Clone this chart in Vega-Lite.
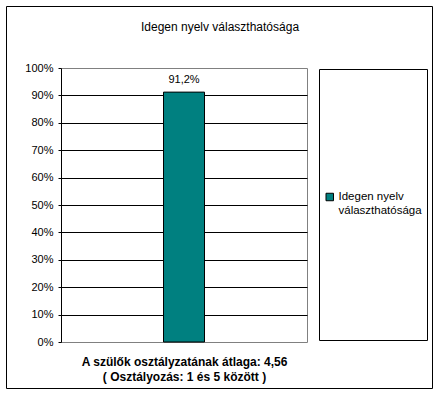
{
  "$schema": "https://vega.github.io/schema/vega-lite/v6.json",
  "width": 246,
  "height": 274,
  "autosize": "none",
  "padding": {"left": 61, "top": 68, "right": 133, "bottom": 53},
  "background": "white",
  "config": {
    "font": "Liberation Sans",
    "locale": {"number": {"decimal": ",", "thousands": " ", "grouping": [3], "currency": ["", " Ft"]}},
    "view": {"stroke": "#808080", "strokeWidth": 1}
  },
  "title": {
    "text": "Idegen nyelv választhatósága",
    "fontSize": 12,
    "fontWeight": "normal",
    "anchor": "middle",
    "frame": "group",
    "dx": 36,
    "offset": -28,
    "color": "black"
  },
  "data": {
    "values": [
      {"kategoria": "A szülők osztályzatának átlaga: 4,56", "sorozat": "Idegen nyelv választhatósága", "arany": 0.912}
    ]
  },
  "encoding": {
    "x": {
      "field": "kategoria",
      "type": "nominal",
      "scale": {"paddingInner": 0, "paddingOuter": 0},
      "axis": {
        "labels": false,
        "ticks": false,
        "domain": false,
        "title": ["A szülők osztályzatának átlaga: 4,56", "( Osztályozás: 1 és 5 között )"],
        "titleFontSize": 12,
        "titleFontWeight": "bold",
        "titleColor": "black",
        "titleLineHeight": 15,
        "titlePadding": 14
      }
    },
    "y": {
      "field": "arany",
      "type": "quantitative",
      "scale": {"domain": [0, 1]},
      "axis": {
        "title": null,
        "format": ".0%",
        "values": [0, 0.1, 0.2, 0.3, 0.4, 0.5, 0.6, 0.7, 0.8, 0.9, 1],
        "labelFontSize": 11,
        "labelColor": "black",
        "labelPadding": 5,
        "tickSize": 3,
        "tickColor": "black",
        "domainColor": "black",
        "grid": true,
        "gridColor": {"condition": {"test": "datum.value == 0 || datum.value == 1", "value": "transparent"}, "value": "black"},
        "gridOpacity": 1
      }
    }
  },
  "layer": [
    {
      "mark": {"type": "bar", "width": 41, "stroke": "black", "strokeWidth": 1},
      "encoding": {
        "color": {
          "field": "sorozat",
          "type": "nominal",
          "scale": {"range": ["#008080"]},
          "legend": {
            "title": " ",
            "titleOrient": "bottom",
            "titleFontSize": 12,
            "titlePadding": 4,
            "orient": "none",
            "legendX": 258,
            "legendY": 1,
            "padding": 5,
            "clipHeight": 246,
            "strokeColor": "black",
            "symbolType": "square",
            "symbolSize": 56,
            "symbolStrokeColor": "black",
            "symbolStrokeWidth": 1,
            "labelFontSize": 11.5,
            "labelColor": "black",
            "labelOffset": 3,
            "labelLimit": 200,
            "labelExpr": "['Idegen nyelv', 'választhatósága']"
          }
        },
        "opacity": {
          "field": "kategoria",
          "type": "nominal",
          "scale": {"range": [1]},
          "legend": {
            "title": null,
            "orient": "none",
            "legendX": -55,
            "legendY": -62,
            "padding": 0,
            "clipHeight": 382,
            "strokeColor": "black",
            "symbolFillColor": "transparent",
            "symbolStrokeColor": "transparent",
            "symbolStrokeWidth": 0,
            "symbolSize": 1,
            "labelOffset": 416,
            "labelExpr": "''"
          }
        }
      }
    },
    {
      "mark": {"type": "text", "baseline": "bottom", "dy": -7, "fontSize": 11, "color": "black"},
      "encoding": {
        "text": {"field": "arany", "type": "quantitative", "format": ".1%"}
      }
    }
  ]
}
